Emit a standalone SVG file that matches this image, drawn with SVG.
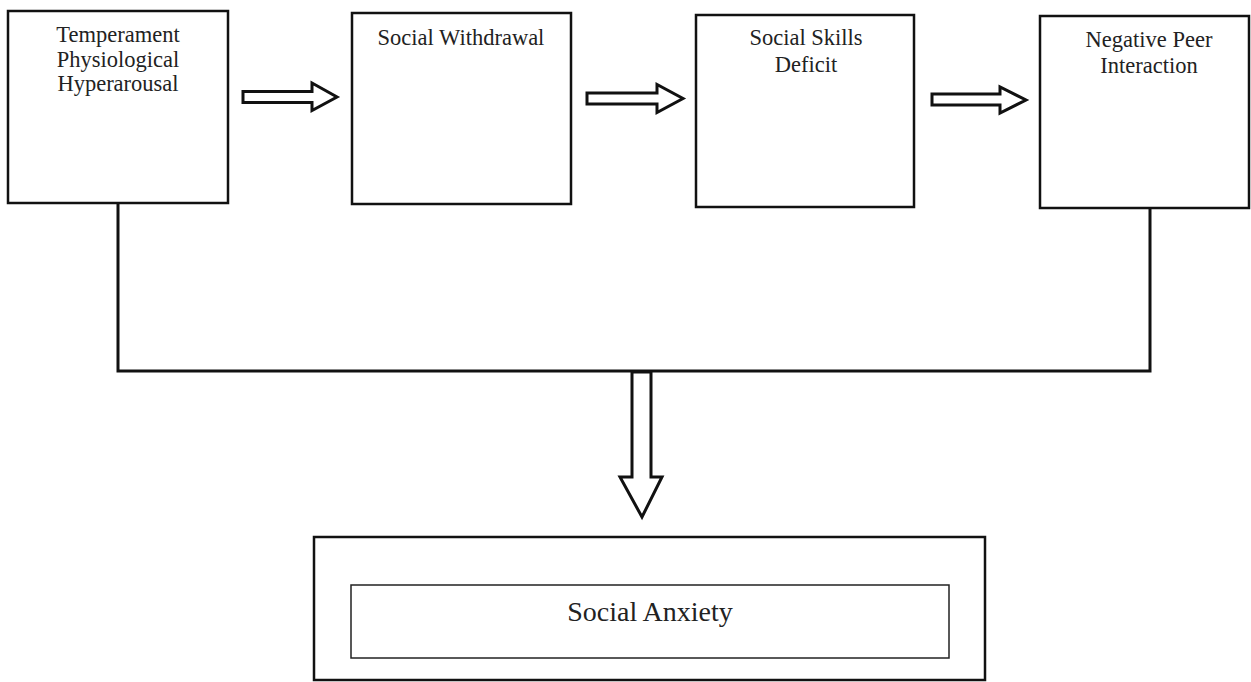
<svg xmlns="http://www.w3.org/2000/svg" width="1251" height="682" viewBox="0 0 1251 682">
<style>
.box{fill:#fff;stroke:#111;stroke-width:2.5}
.inner{fill:#fff;stroke:#222;stroke-width:1.5}
.lbl{font-family:"Liberation Serif","Times New Roman",serif;font-size:22.5px;fill:#222;text-anchor:middle}
.big{font-size:28px}
.arrow{fill:#fff;stroke:#111;stroke-width:3;stroke-linejoin:miter}
.line{fill:none;stroke:#111;stroke-width:3}
</style>
<rect width="1251" height="682" fill="#fff"/>
<g id="connectors">
<polyline class="line" points="118,203 118,371 1150,371 1150,208"/>
<polygon class="arrow" points="243,91.5 312,91.5 312,83 337,97 312,110.5 312,102.5 243,102.5"/>
<polygon class="arrow" points="587,93 657,93 657,84.5 683,98.5 657,112.5 657,104 587,104"/>
<polygon class="arrow" points="932,94 1000,94 1000,87 1026,100 1000,113 1000,105 932,105"/>
<polygon class="arrow" points="632,372 651,372 651,477 662,477 642,517 620,477 632,477"/>
</g>
<g id="node-temperament">
<rect class="box" x="8" y="11" width="220" height="192"/>
<text class="lbl" x="118" y="42">Temperament</text>
<text class="lbl" x="118" y="67">Physiological</text>
<text class="lbl" x="118" y="91">Hyperarousal</text>
</g>
<g id="node-withdrawal">
<rect class="box" x="352" y="13" width="219" height="191"/>
<text class="lbl" x="461" y="45">Social Withdrawal</text>
</g>
<g id="node-skills">
<rect class="box" x="696" y="15" width="218" height="192"/>
<text class="lbl" x="806" y="45">Social Skills</text>
<text class="lbl" x="806" y="72">Deficit</text>
</g>
<g id="node-peer">
<rect class="box" x="1040" y="16" width="209" height="192"/>
<text class="lbl" x="1149" y="47">Negative Peer</text>
<text class="lbl" x="1149" y="73">Interaction</text>
</g>
<g id="node-anxiety">
<rect class="box" x="314" y="537" width="671" height="143"/>
<rect class="inner" x="351" y="585" width="598" height="73"/>
<text class="lbl big" x="650" y="621">Social Anxiety</text>
</g>
</svg>
